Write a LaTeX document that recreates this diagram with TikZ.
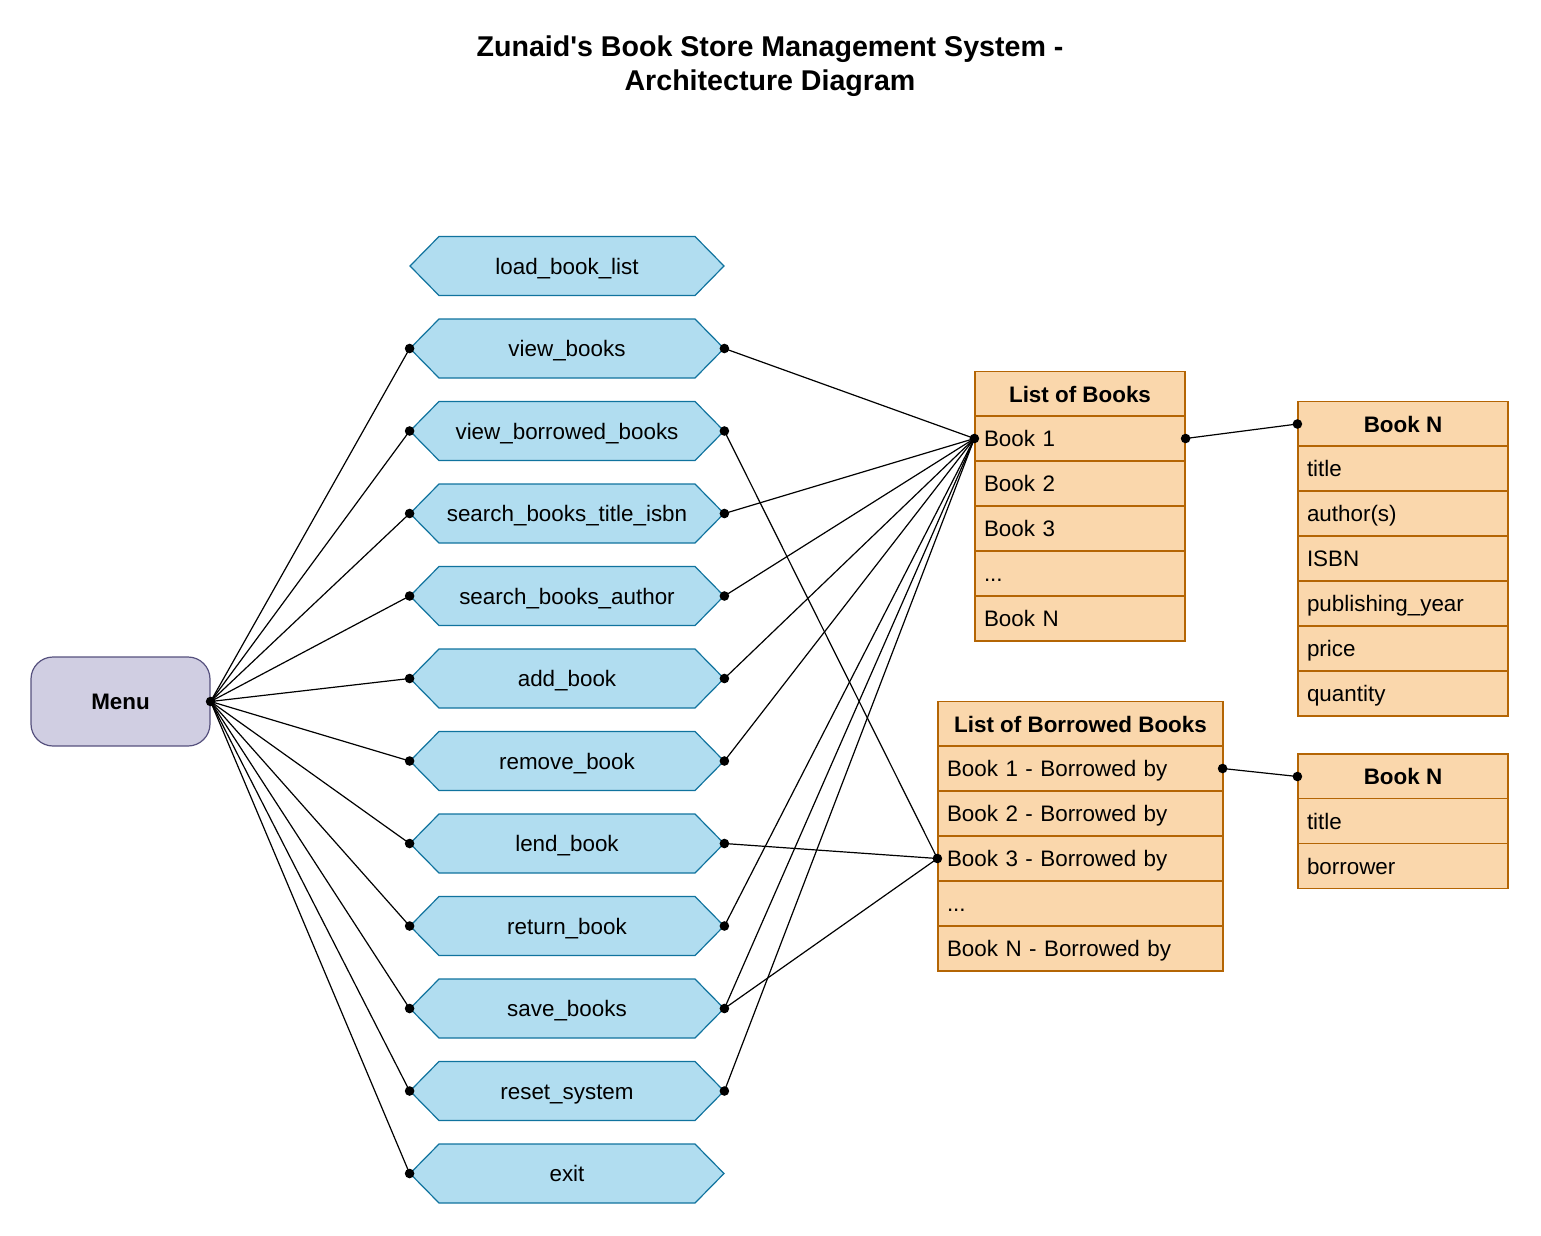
\documentclass[tikz,border=0pt]{standalone}
\usepackage{fontspec}
\setmainfont{Liberation Sans}
\definecolor{hexfill}{HTML}{B1DDF0}
\definecolor{hexline}{HTML}{10739E}
\definecolor{tabfill}{HTML}{FAD7AC}
\definecolor{tabline}{HTML}{B46504}
\definecolor{menufill}{HTML}{D0CEE2}
\definecolor{menuline}{HTML}{56517E}
\newcommand{\rowdots}{...}
\tikzset{fn/.style={minimum width=157pt, minimum height=29.5pt, inner sep=0pt, text height=8pt, text depth=0pt, font=\fontsize{11.2}{13.4}\selectfont},
hdr/.style={draw=tabline, fill=tabfill, line width=0.6pt, minimum height=22.5pt, inner sep=0pt, text height=8pt, text depth=0pt, font=\fontsize{11.2}{13.4}\selectfont\bfseries},
row/.style={draw=tabline, fill=tabfill, line width=0.6pt, minimum height=22.5pt, inner xsep=4.5pt, inner ysep=0pt, text height=8pt, text depth=0pt, align=left, font=\fontsize{11.2}{13.4}\selectfont},
link/.style={black, line width=0.6pt}}

\begin{document}
\begin{tikzpicture}[x=0.5pt, y=-0.5pt]

    \useasboundingbox (0,0) rectangle (1541,1236);

    \node[font=\fontsize{14.3}{17}\selectfont\bfseries, align=center] (title) at (770,66)
        {Zunaid\textquotesingle s Book Store Management System -\\Architecture Diagram};

    \node[draw=menuline, fill=menufill, line width=0.6pt, rounded corners=11pt, minimum width=89.5pt, minimum height=44.5pt,
        text height=8pt, text depth=0pt, font=\fontsize{11.2}{13.4}\selectfont\bfseries] (menu) at (120.5,701.5) {Menu};

    % functions
    \foreach \i/\t in {1/load\_book\_list, 2/view\_books, 3/view\_borrowed\_books, 4/search\_books\_title\_isbn,
        5/search\_books\_author, 6/add\_book, 7/remove\_book, 8/lend\_book, 9/return\_book,
        10/save\_books, 11/reset\_system, 12/exit} {
    \draw[hexline, fill=hexfill, line width=0.6pt, shift={(567,{183.5+82.5*\i})}]
        (-157,0) -- (-128,-29.5) -- (128,-29.5) -- (157,0) -- (128,29.5) -- (-128,29.5) -- cycle;
    \node[fn] (f\i) at (567,{183.5+82.5*\i}) {\t};
    }

    % list of books
    \node[hdr, minimum width=105pt] (lb0) at (1080,394) {List of Books};
    \foreach \i/\t in {1/Book 1, 2/Book 2, 3/Book 3, 4/\rowdots, 5/Book N}
    \node[row, text width=96pt] (lb\i) at (1080,{393.5+45*\i}) {\t};

    % book fields
    \node[hdr, minimum width=105pt] (bn0) at (1403,424) {Book N};
    \foreach \i/\t in {1/title, 2/author(s), 3/ISBN, 4/publishing\_year, 5/price, 6/quantity}
    \node[row, text width=96pt] (bn\i) at (1403,{423.5+45*\i}) {\t};

    % list of borrowed books
    \node[hdr, minimum width=142.5pt] (bb0) at (1080.5,724) {List of Borrowed Books};
    \foreach \i/\t in {1/Book 1 - Borrowed by, 2/Book 2 - Borrowed by, 3/Book 3 - Borrowed by, 4/\rowdots, 5/Book N - Borrowed by}
    \node[row, text width=133.5pt] (bb\i) at (1080.5,{723.5+45*\i}) {\t};

    % borrowed book fields
    \node[hdr, minimum width=105pt] (bm0) at (1403,776.5) {Book N};
    \foreach \i/\t in {1/title, 2/borrower}
    \node[row, text width=96pt] (bm\i) at (1403,{776+45*\i}) {\t};

    % menu to functions
    \foreach \i in {2,...,12}
    \draw[link] (menu.east) -- (f\i.west);

    \foreach \i in {2,4,5,6,7,9,10,11}
    \draw[link] (f\i.east) -- (lb1.west);

    \foreach \i in {3,8,10}
    \draw[link] (f\i.east) -- (bb3.west);

    \draw[link] (lb1.east) -- (bn0.west);
    \draw[link] ([xshift=-0.5pt]bb1.east) -- (bm0.west);

    \foreach \p in {menu.east, lb1.west, lb1.east, bn0.west, bb3.west, bm0.west}
    \fill (\p) circle (2.4pt);
    \fill ([xshift=-0.5pt]bb1.east) circle (2.4pt);

    \foreach \i in {2,...,12}
    \fill (f\i.west) circle (2.4pt);

    \foreach \i in {2,...,11}
    \fill (f\i.east) circle (2.4pt);

  \end{tikzpicture}
\end{document}
